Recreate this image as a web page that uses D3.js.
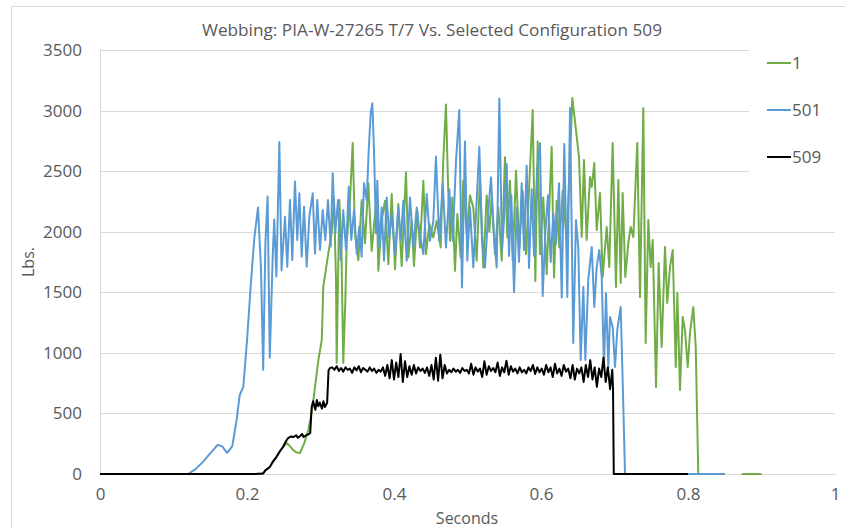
<!DOCTYPE html>
<html><head><meta charset="utf-8">
<script src="https://cdn.jsdelivr.net/npm/d3@7"></script>
<style>
body{margin:0;background:#fff;}
text{font-family:"Open Sans",sans-serif;fill:#595959;}
</style>
</head><body>
<svg id="chart" width="845" height="528"></svg>
<script>
const chartTitle = "Webbing: PIA-W-27265 T/7 Vs. Selected Configuration 509";
const xLabel = "Seconds";
const yLabel = "Lbs.";
const seriesNames = ["1", "501", "509"];
const seriesColors = ["#70AD47", "#5B9BD5", "#000000"];
const xTicks = [0, 0.2, 0.4, 0.6, 0.8, 1];
const yTicks = [0, 500, 1000, 1500, 2000, 2500, 3000, 3500];

// series "1" : [seconds, lbs]
const series1 = [[0,0],[0.211,0],[0.222,5],[0.225,30],[0.231,58],[0.235,100],[0.24,140],[0.245,190],[0.249,223],[0.254,256],[0.2585,230],[0.2626,200],[0.2667,180],[0.272,173],[0.2776,250],[0.2835,363],[0.2871,480],[0.2903,610],[0.2971,940],[0.3017,1106],[0.3038,1546],[0.3106,1820],[0.3152,1990],[0.3184,2262],[0.3211,1600],[0.322,916],[0.3256,2262],[0.3283,1900],[0.331,916],[0.3338,1436],[0.3356,1905],[0.3401,2262],[0.3438,2732],[0.3469,1987],[0.3515,1766],[0.356,2262],[0.3605,1905],[0.3651,2400],[0.3696,1842],[0.3764,2283],[0.3787,1677],[0.3833,2100],[0.3878,2256],[0.3923,1732],[0.3969,2311],[0.4014,1691],[0.4059,2228],[0.4104,1718],[0.4163,2490],[0.4195,1787],[0.424,2090],[0.4272,1718],[0.4317,2173],[0.4354,1870],[0.4399,2421],[0.4435,1815],[0.448,2063],[0.4535,1953],[0.458,2090],[0.4635,1870],[0.4671,2600],[0.4707,3050],[0.4735,2400],[0.4762,1925],[0.4794,2283],[0.483,1677],[0.4862,2146],[0.4907,1787],[0.4943,2420],[0.4989,1980],[0.5034,2300],[0.5079,2200],[0.5125,1760],[0.517,2449],[0.5215,1705],[0.5261,2300],[0.5297,2000],[0.5329,2283],[0.5374,1815],[0.5419,2200],[0.5465,1760],[0.551,2614],[0.5542,1953],[0.5578,2421],[0.5615,1760],[0.566,2504],[0.5705,1870],[0.5751,2338],[0.5796,1815],[0.5841,2394],[0.5887,3005],[0.5923,1594],[0.5955,2744],[0.5986,1815],[0.6031,2283],[0.6077,1650],[0.6145,2702],[0.6177,1622],[0.6213,2256],[0.6249,1870],[0.6295,2338],[0.635,1925],[0.6426,3104],[0.6517,2617],[0.6554,1956],[0.6585,2592],[0.6621,1932],[0.6667,2452],[0.669,2370],[0.6725,2567],[0.6758,2014],[0.6803,2320],[0.6839,1626],[0.6894,2039],[0.6929,1709],[0.6975,2732],[0.702,1544],[0.7052,2427],[0.7084,1577],[0.7111,2320],[0.7147,1626],[0.7188,1907],[0.722,2039],[0.7256,1956],[0.731,2732],[0.7347,1461],[0.7392,3021],[0.7424,1081],[0.746,2097],[0.7492,1709],[0.752,1932],[0.7565,718],[0.7601,1742],[0.7642,1048],[0.7687,1874],[0.7718,1412],[0.7755,1709],[0.7792,1849],[0.7833,883],[0.7855,1494],[0.7891,693],[0.7928,1296],[0.7959,1189],[0.7996,883],[0.8027,1164],[0.8072,1379],[0.8105,1048],[0.814,0],[0.85,0],[0.86,null],[0.873,0],[0.9,0]];

// series "501"
const series501 = [[0,0],[0.12,0],[0.13,40],[0.14,100],[0.15,170],[0.16,240],[0.166,230],[0.173,175],[0.18,230],[0.186,450],[0.19,650],[0.195,720],[0.2,1100],[0.205,1550],[0.21,1950],[0.215,2200],[0.219,1700],[0.222,860],[0.225,1900],[0.228,2290],[0.231,960],[0.235,1800],[0.237,2100],[0.24,1630],[0.244,2740],[0.247,1680],[0.2517,2124],[0.2548,1711],[0.2585,2262],[0.2616,1766],[0.2653,2414],[0.2684,1932],[0.2712,2317],[0.2744,1794],[0.2776,2207],[0.2812,1711],[0.2848,2124],[0.2894,2317],[0.2925,1821],[0.2956,2262],[0.2993,1849],[0.303,2179],[0.3065,1932],[0.3102,2262],[0.3139,1877],[0.3166,2482],[0.3201,1987],[0.3238,2262],[0.3275,1766],[0.331,2179],[0.3347,1849],[0.3384,2372],[0.3419,1932],[0.3456,2179],[0.3493,1821],[0.3528,2042],[0.356,1794],[0.3592,2400],[0.3629,2262],[0.3656,2675],[0.3683,2978],[0.3705,3060],[0.3728,2675],[0.3755,1987],[0.3773,2420],[0.38,1870],[0.3833,2200],[0.3864,1760],[0.3901,2283],[0.3936,1953],[0.3969,2146],[0.4014,1815],[0.4059,2200],[0.4091,1925],[0.4127,2256],[0.4173,1760],[0.4218,2283],[0.4263,1870],[0.4309,2200],[0.4344,2008],[0.4399,1815],[0.4445,2311],[0.449,1925],[0.4535,2090],[0.4571,2620],[0.4616,1925],[0.4663,2400],[0.4707,1870],[0.4752,2350],[0.4799,1925],[0.4844,2587],[0.4888,3005],[0.4925,1540],[0.4966,2744],[0.4997,1760],[0.5034,2200],[0.5079,1705],[0.5116,2146],[0.5161,2702],[0.5197,1925],[0.5238,1705],[0.5283,2173],[0.532,2449],[0.5361,1953],[0.5397,1705],[0.5433,3100],[0.5469,1850],[0.5497,2100],[0.5533,2559],[0.5565,1800],[0.5596,2300],[0.5633,1500],[0.5669,2200],[0.5701,1750],[0.5737,2400],[0.5769,1850],[0.5805,2545],[0.5837,1700],[0.5873,2350],[0.5905,1800],[0.5946,2500],[0.5986,2730],[0.6023,1470],[0.6059,2000],[0.6095,2300],[0.6132,1750],[0.6167,2150],[0.6204,1900],[0.6245,2400],[0.6282,1457],[0.6317,2724],[0.6358,1461],[0.6395,3021],[0.6439,1081],[0.6476,2097],[0.6507,1874],[0.654,941],[0.6576,1544],[0.6603,941],[0.6643,1600],[0.669,1874],[0.6725,1379],[0.6758,1709],[0.6793,1849],[0.6826,1626],[0.6857,883],[0.6884,1494],[0.6916,883],[0.6939,1296],[0.6975,1214],[0.7007,883],[0.7038,1189],[0.7084,1379],[0.7111,776],[0.7143,0],[0.85,0]];

// series "509"
const series509 = [[0,0],[0.211,0],[0.222,5],[0.225,30],[0.231,58],[0.235,100],[0.24,140],[0.245,190],[0.249,223],[0.253,270],[0.256,297],[0.26,310],[0.263,305],[0.267,320],[0.269,300],[0.272,310],[0.275,330],[0.277,305],[0.281,322],[0.283,325],[0.286,338],[0.288,553],[0.29,600],[0.293,530],[0.295,610],[0.297,560],[0.299,590],[0.302,540],[0.304,600],[0.306,553],[0.309,586],[0.311,858],[0.313,875],[0.316,880],[0.319,860],[0.322,890],[0.325,850],[0.328,875],[0.331,845],[0.334,880],[0.337,860],[0.34,870],[0.343,835],[0.346,880],[0.349,855],[0.352,890],[0.355,840],[0.358,875],[0.361,860],[0.364,845],[0.367,880],[0.37,850],[0.373,870],[0.376,835],[0.379,860],[0.382,845],[0.385,880],[0.388,810],[0.391,900],[0.394,790],[0.397,940],[0.4,780],[0.403,920],[0.406,800],[0.409,990],[0.412,760],[0.415,930],[0.418,800],[0.421,890],[0.424,820],[0.427,900],[0.43,830],[0.433,880],[0.436,850],[0.439,870],[0.442,835],[0.445,880],[0.448,810],[0.451,900],[0.454,780],[0.457,960],[0.46,770],[0.463,985],[0.466,790],[0.469,900],[0.472,830],[0.475,860],[0.478,840],[0.481,870],[0.484,845],[0.487,860],[0.49,835],[0.493,875],[0.496,850],[0.499,860],[0.502,830],[0.505,910],[0.508,820],[0.511,880],[0.514,845],[0.517,870],[0.52,800],[0.523,930],[0.526,820],[0.529,890],[0.532,850],[0.535,875],[0.538,840],[0.541,920],[0.544,810],[0.547,880],[0.55,840],[0.553,935],[0.556,820],[0.559,890],[0.562,845],[0.565,870],[0.568,830],[0.571,880],[0.574,840],[0.577,860],[0.58,830],[0.583,880],[0.586,850],[0.589,900],[0.592,825],[0.595,880],[0.598,840],[0.601,870],[0.604,820],[0.607,900],[0.61,840],[0.613,880],[0.616,800],[0.619,910],[0.622,830],[0.625,870],[0.628,810],[0.631,900],[0.634,845],[0.637,870],[0.64,790],[0.643,900],[0.646,780],[0.649,870],[0.652,830],[0.655,880],[0.658,760],[0.661,900],[0.664,800],[0.667,940],[0.67,780],[0.673,880],[0.676,720],[0.679,870],[0.682,800],[0.685,960],[0.688,760],[0.691,880],[0.694,700],[0.697,860],[0.698,700],[0.699,0],[0.8,0]];

const allSeries = [series1, series501, series509];

const svg = d3.select("#chart");
const W = 845, H = 528;
const x = d3.scaleLinear().domain([0, 1]).range([100, 835]);
const y = d3.scaleLinear().domain([0, 3500]).range([474, 50]);

// outer chart border
svg.append("path").attr("d", `M11.5,${H} L11.5,6.5 L${W},6.5`)
  .attr("fill", "none").attr("stroke", "#d9d9d9").attr("stroke-width", 1);

// gridlines
const yAxis = d3.axisLeft(y).tickValues(yTicks).tickSize(-(835 - 100)).tickPadding(18).tickFormat(d3.format("d"));
const gy = svg.append("g").attr("transform", "translate(100,0)").call(yAxis);
gy.select(".domain").attr("stroke", "#d9d9d9");
gy.selectAll(".tick line").attr("stroke", "#d9d9d9").attr("shape-rendering", "crispEdges");
gy.selectAll(".tick text").style("font-size", "17px").attr("fill", "#595959");

// x axis
const xAxis = d3.axisBottom(x).tickValues(xTicks).tickSize(0).tickPadding(14).tickFormat(d => d3.format("")(d));
const gx = svg.append("g").attr("transform", "translate(0,474)").call(xAxis);
gx.select(".domain").attr("stroke", "#d9d9d9").attr("shape-rendering", "crispEdges");
gx.selectAll(".tick text").style("font-size", "17px").attr("fill", "#595959");

// legend background (covers gridlines as in the original)
svg.append("rect").attr("x", 749).attr("y", 38).attr("width", 100).attr("height", 146).attr("fill", "#fff");

// lines
const line = d3.line().defined(d => d[1] !== null).x(d => x(d[0])).y(d => y(d[1]));
allSeries.forEach((s, i) => {
  svg.append("path").datum(s).attr("d", line)
    .attr("fill", "none").attr("stroke", seriesColors[i])
    .attr("stroke-width", i === 2 ? 2 : 2).attr("stroke-linejoin", "round");
});

// title
svg.append("text").attr("x", 432).attr("y", 36).attr("text-anchor", "middle")
  .style("font-size", "16px").attr("textLength", 460).attr("lengthAdjust", "spacingAndGlyphs")
  .text(chartTitle);

// axis titles
svg.append("text").attr("x", 467).attr("y", 524).attr("text-anchor", "middle")
  .style("font-size", "16px").text(xLabel);
svg.append("text").attr("transform", "translate(34,262) rotate(-90)").attr("text-anchor", "middle")
  .style("font-size", "16px").text(yLabel);

// legend
const legY = [63, 110, 157];
seriesNames.forEach((n, i) => {
  svg.append("line").attr("x1", 767).attr("x2", 791).attr("y1", legY[i]).attr("y2", legY[i])
    .attr("stroke", seriesColors[i]).attr("stroke-width", 2);
  svg.append("text").attr("x", 792).attr("y", legY[i] + 6).style("font-size", "17px").text(n);
});
</script>
</body></html>
